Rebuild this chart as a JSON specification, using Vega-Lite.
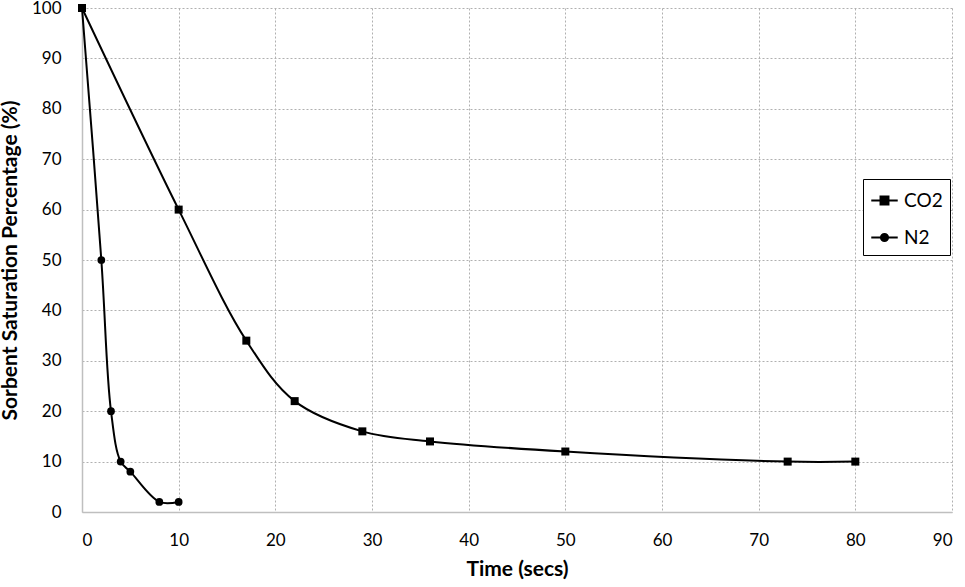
{
  "$schema": "https://vega.github.io/schema/vega-lite/v6.json",
  "autosize": {"type": "none"},
  "padding": {"left": 82, "top": 8, "right": 13, "bottom": 75},
  "width": 870,
  "height": 504,
  "background": "white",
  "config": {
    "font": "Lato",
    "view": {"stroke": null},
    "axis": {
      "labelFont": "Lato",
      "labelFontSize": 17,
      "labelColor": "#000000",
      "titleFont": "Lato",
      "titleFontSize": 21,
      "titleFontWeight": "bold",
      "titleColor": "#000000",
      "grid": true,
      "gridColor": "#b0b0b0",
      "gridDash": [2, 2],
      "gridWidth": 1,
      "domainColor": "#bfbfbf",
      "domainWidth": 1.5,
      "ticks": false
    }
  },
  "data": {
    "values": [
      {"series": "CO2", "t": 0, "v": 100},
      {"series": "CO2", "t": 10, "v": 60},
      {"series": "CO2", "t": 17, "v": 34},
      {"series": "CO2", "t": 22, "v": 22},
      {"series": "CO2", "t": 29, "v": 16},
      {"series": "CO2", "t": 36, "v": 14},
      {"series": "CO2", "t": 50, "v": 12},
      {"series": "CO2", "t": 73, "v": 10},
      {"series": "CO2", "t": 80, "v": 10},
      {"series": "N2", "t": 0, "v": 100},
      {"series": "N2", "t": 2, "v": 50},
      {"series": "N2", "t": 3, "v": 20},
      {"series": "N2", "t": 4, "v": 10},
      {"series": "N2", "t": 5, "v": 8},
      {"series": "N2", "t": 8, "v": 2},
      {"series": "N2", "t": 10, "v": 2}
    ]
  },
  "encoding": {
    "x": {
      "field": "t", "type": "quantitative",
      "scale": {"domain": [0, 90], "nice": false},
      "axis": {"values": [0, 10, 20, 30, 40, 50, 60, 70, 80, 90], "title": "Time (secs)", "labelPadding": 20, "titlePadding": 10}
    },
    "y": {
      "field": "v", "type": "quantitative",
      "scale": {"domain": [0, 100], "nice": false},
      "axis": {"values": [0, 10, 20, 30, 40, 50, 60, 70, 80, 90, 100], "title": "Sorbent Saturation Percentage (%)", "labelPadding": 21, "titlePadding": 11}
    }
  },
  "layer": [
    {
      "mark": {"type": "line", "interpolate": "catmull-rom", "strokeWidth": 2},
      "encoding": {
        "stroke": {
          "field": "series", "type": "nominal",
          "scale": {"domain": ["CO2", "N2"], "range": ["#000000", "#000000"]},
          "legend": {
            "title": null,
            "orient": "none",
            "legendX": 781,
            "legendY": 171,
            "padding": 7,
            "strokeColor": "#000000",
            "fillColor": "white",
            "labelFont": "Lato",
            "labelFontSize": 19,
            "labelColor": "#000000",
            "rowPadding": 12,
            "symbolSize": 700,
            "symbolStrokeWidth": 2,
            "labelOffset": 5,
            "encode": {
              "symbols": {
                "update": {
                  "shape": {"signal": "datum.value === 'CO2' ? 'M-1,0H1M-0.3,-0.3H0.3V0.3H-0.3Z' : 'M-1,0H1M0.27,0A0.27,0.27 0 1,1 -0.27,0A0.27,0.27 0 1,1 0.27,0Z'"},
                  "fill": {"value": "#000000"},
                  "stroke": {"value": "#000000"},
                  "strokeWidth": {"value": 2},
                  "opacity": {"value": 1}
                }
              }
            }
          }
        }
      }
    },
    {
      "transform": [{"filter": "datum.series === 'CO2'"}],
      "mark": {"type": "point", "shape": "square", "filled": true, "opacity": 1, "color": "#000000", "size": 64}
    },
    {
      "transform": [{"filter": "datum.series === 'N2'"}],
      "mark": {"type": "point", "shape": "circle", "filled": true, "opacity": 1, "color": "#000000", "size": 60}
    }
  ]
}
